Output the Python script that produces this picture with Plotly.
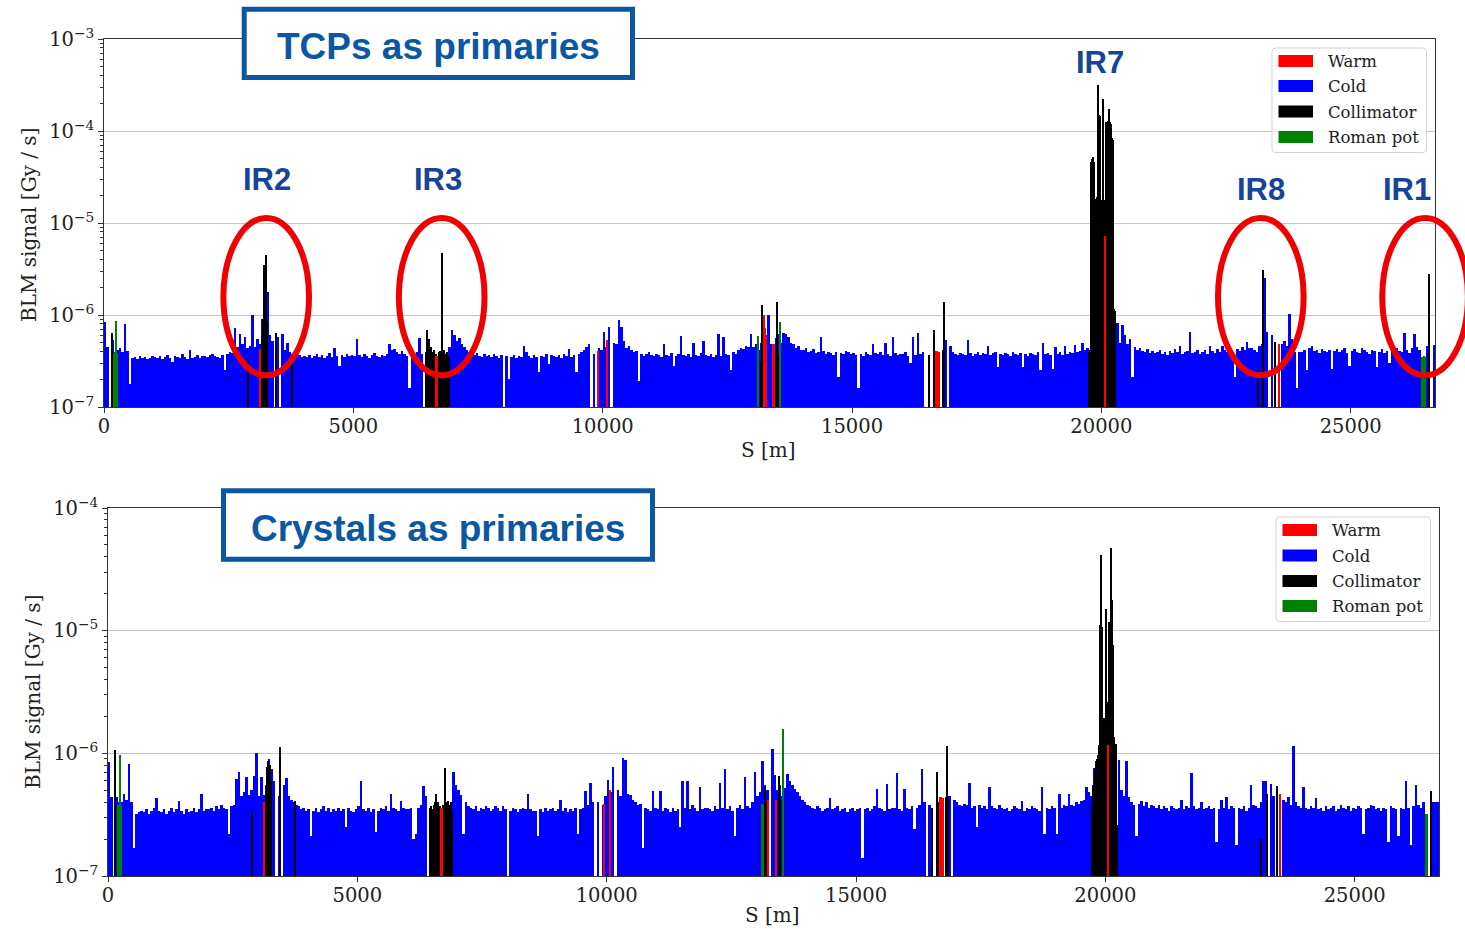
import plotly.graph_objects as go

W, H = 1465, 929

# ---------------------------------------------------------------------------
# Arc (cold) BLM signal, one value per 50 m of ring, in units of 1e-8 Gy/s.
# A 0 means no arc monitor in that bin. One row per kilometre.
# ---------------------------------------------------------------------------
BIN_M = 50

cold_tcp_e8 = [
    84, 45, 0, 53, 40, 42, 44, 40, 79, 41, 18, 34, 35, 33, 36, 34, 35, 33, 34, 36,
    35, 34, 36, 33, 35, 37, 34, 31, 36, 35, 34, 38, 35, 33, 42, 34, 35, 37, 34, 36,
    36, 35, 37, 38, 36, 35, 34, 37, 25, 38, 40, 39, 72, 45, 62, 48, 57, 44, 46, 100,
    45, 55, 48, 90, 85, 180, 60, 52, 0, 58, 0, 62, 42, 50, 40, 38, 38, 36, 37, 35,
    36, 35, 37, 34, 36, 38, 35, 37, 34, 36, 39, 35, 44, 36, 28, 37, 35, 38, 36, 37,
    36, 55, 37, 35, 38, 36, 34, 37, 39, 36, 35, 37, 36, 38, 48, 42, 43, 40, 38, 41,
    38, 36, 16, 35, 37, 40, 56, 38, 0, 0, 0, 0, 0, 0, 0, 0, 0, 0, 45, 68,
    60, 52, 56, 48, 45, 42, 40, 38, 37, 39, 36, 35, 38, 36, 37, 35, 38, 36, 34, 37,
    0, 36, 20, 35, 37, 34, 36, 35, 46, 40, 36, 34, 37, 35, 24, 36, 35, 38, 29, 37,
    36, 35, 37, 34, 38, 36, 43, 35, 37, 24, 38, 40, 42, 45, 48, 0, 38, 0, 44, 42,
    65, 45, 74, 0, 50, 48, 88, 74, 52, 44, 46, 42, 40, 41, 19, 38, 36, 38, 40, 37,
    36, 38, 37, 35, 48, 37, 36, 39, 28, 36, 38, 59, 37, 36, 38, 35, 50, 37, 36, 39,
    52, 37, 36, 38, 35, 37, 62, 36, 58, 38, 37, 25, 40, 38, 42, 44, 43, 46, 45, 62,
    45, 48, 42, 50, 55, 0, 100, 48, 45, 56, 62, 50, 63, 62, 58, 50, 48, 44, 46, 42,
    42, 44, 40, 41, 43, 39, 40, 57, 41, 38, 40, 39, 37, 40, 21, 39, 38, 41, 40, 38,
    39, 37, 16, 38, 36, 40, 38, 37, 48, 39, 38, 40, 37, 50, 38, 36, 58, 39, 37, 38,
    38, 40, 36, 30, 58, 37, 63, 38, 40, 0, 0, 0, 0, 0, 0, 0, 0, 53, 0, 46,
    40, 38, 37, 39, 38, 37, 53, 39, 36, 38, 40, 37, 39, 38, 46, 37, 39, 40, 27, 38,
    37, 39, 38, 36, 40, 38, 37, 39, 27, 38, 36, 39, 38, 37, 40, 25, 50, 38, 39, 37,
    26, 45, 38, 40, 37, 46, 38, 40, 39, 47, 40, 41, 50, 42, 44, 0, 0, 0, 0, 0,
    0, 0, 0, 0, 0, 0, 81, 50, 78, 60, 48, 55, 21, 45, 42, 44, 41, 40, 43, 39,
    41, 39, 40, 42, 38, 40, 37, 41, 39, 43, 40, 46, 38, 40, 41, 66, 39, 40, 42, 38,
    40, 42, 38, 46, 41, 39, 43, 40, 46, 42, 40, 44, 39, 21, 43, 41, 45, 42, 51, 44,
    44, 42, 40, 46, 48, 250, 65, 0, 60, 0, 0, 0, 48, 52, 46, 103, 55, 40, 16, 40,
    40, 42, 25, 44, 46, 41, 42, 39, 43, 41, 40, 42, 26, 41, 43, 40, 42, 44, 39, 28,
    41, 43, 40, 39, 44, 42, 40, 38, 42, 41, 27, 40, 43, 39, 41, 30, 42, 40, 44, 41,
    40, 64, 42, 39, 44, 62, 45, 42, 0, 0, 46, 0, 0, 47,
]

cold_cry_e8 = [
    85, 44, 0, 44, 40, 40, 47, 42, 82, 40, 17, 32, 33, 34, 33, 35, 32, 34, 36, 43,
    34, 33, 35, 32, 34, 36, 33, 35, 41, 34, 32, 35, 33, 34, 36, 33, 35, 47, 34, 35,
    35, 36, 34, 37, 35, 38, 36, 35, 22, 37, 38, 62, 71, 45, 48, 64, 46, 50, 65, 100,
    45, 64, 46, 55, 90, 75, 60, 0, 45, 0, 55, 63, 45, 42, 40, 38, 37, 35, 36, 34,
    35, 21, 34, 36, 33, 35, 37, 34, 36, 33, 35, 34, 36, 34, 35, 25, 36, 34, 33, 35,
    37, 60, 35, 34, 36, 33, 35, 23, 34, 36, 35, 37, 34, 47, 36, 35, 34, 41, 36, 35,
    35, 36, 20, 22, 36, 38, 54, 45, 0, 0, 0, 0, 0, 0, 0, 0, 0, 0, 71, 55,
    50, 46, 22, 40, 37, 36, 35, 37, 34, 36, 35, 37, 36, 34, 35, 37, 36, 34, 37, 35,
    0, 34, 36, 35, 33, 35, 36, 35, 47, 35, 34, 34, 21, 35, 33, 36, 34, 35, 36, 34,
    35, 42, 34, 36, 33, 35, 34, 36, 22, 35, 36, 49, 38, 57, 40, 0, 40, 0, 38, 45,
    61, 48, 77, 0, 50, 45, 91, 88, 47, 46, 42, 40, 38, 39, 17, 36, 35, 34, 49, 36,
    35, 49, 34, 36, 35, 33, 36, 34, 35, 25, 59, 36, 59, 35, 38, 36, 34, 53, 35, 36,
    36, 35, 34, 37, 35, 57, 36, 75, 35, 37, 34, 21, 36, 38, 35, 64, 37, 36, 40, 70,
    45, 48, 87, 55, 50, 0, 108, 66, 50, 55, 45, 52, 68, 60, 55, 51, 48, 45, 42, 40,
    38, 37, 36, 35, 37, 36, 34, 35, 36, 43, 35, 36, 37, 34, 35, 36, 33, 35, 36, 34,
    35, 36, 14, 35, 36, 34, 35, 37, 51, 36, 35, 34, 56, 35, 36, 36, 69, 35, 34, 51,
    36, 35, 37, 24, 36, 38, 75, 40, 0, 38, 0, 0, 0, 0, 0, 0, 0, 45, 0, 42,
    40, 38, 37, 39, 38, 57, 36, 37, 25, 38, 36, 37, 35, 53, 37, 36, 35, 38, 36, 35,
    36, 34, 35, 37, 36, 35, 41, 34, 36, 35, 37, 36, 35, 34, 53, 22, 36, 35, 37, 36,
    22, 47, 36, 38, 37, 47, 38, 37, 40, 39, 41, 42, 53, 48, 45, 76, 0, 0, 0, 0,
    0, 0, 0, 0, 0, 89, 50, 45, 86, 44, 40, 38, 21, 39, 41, 37, 40, 36, 38, 37,
    36, 38, 35, 37, 36, 34, 37, 36, 35, 36, 42, 35, 37, 36, 69, 37, 35, 36, 40, 35,
    36, 37, 35, 36, 19, 35, 42, 36, 44, 35, 37, 36, 18, 36, 35, 37, 34, 36, 55, 38,
    37, 36, 40, 59, 59, 0, 56, 45, 0, 0, 0, 42, 40, 44, 38, 115, 40, 37, 36, 53,
    36, 35, 37, 36, 43, 35, 36, 34, 37, 35, 36, 37, 34, 35, 38, 36, 35, 37, 34, 36,
    35, 37, 36, 22, 35, 36, 38, 37, 35, 36, 34, 36, 35, 19, 37, 36, 35, 21, 36, 35,
    59, 36, 18, 37, 55, 38, 36, 40, 0, 0, 0, 40, 40, 40,
]

# ---------------------------------------------------------------------------
# Individual monitors: position S [m] and signal [Gy/s]
# ---------------------------------------------------------------------------
# TCPs as primaries
coll_tcp_s = [154, 2890, 3170, 3195, 3220, 3245, 3268, 3445, 3766,
              6450, 6475, 6500, 6525, 6550, 6575, 6600, 6625, 6650, 6710, 6735,
              6774, 6800, 6825, 6850, 6875, 6900, 6925,
              13120, 13180, 13206, 13480, 13494, 13520,
              16536, 16640, 16660, 16820, 16837, 16855,
              19760, 19782, 19803, 19822, 19840, 19860, 19885, 19905, 19920, 19934,
              19950, 19965, 19985, 20000, 20026, 20045, 20090, 20110, 20130, 20153,
              20175, 20195, 20215, 20235, 20258, 20278,
              23135, 23236, 23476,
              26565]
coll_tcp_v = [6.4e-7, 3.3e-7, 5.5e-7, 8.8e-7, 3.5e-6, 4.5e-6, 8.5e-7, 6.3e-7, 3.5e-7,
              4.0e-7, 6.8e-7, 5.2e-7, 5.5e-7, 4.5e-7, 4.0e-7, 3.8e-7, 4.2e-7, 3.8e-7, 4.0e-7, 4.1e-7,
              4.7e-6, 4.0e-7, 4.2e-7, 3.8e-7, 4.0e-7, 3.6e-7, 3.5e-7,
              3.0e-7, 3.2e-7, 1.28e-6, 4.0e-7, 1.38e-6, 3.8e-7,
              3.7e-7, 6.9e-7, 4.0e-7, 4.2e-7, 1.38e-6, 4.2e-7,
              4.0e-7, 4.2e-7, 4.6e-5, 5.0e-5, 5.2e-5, 4.6e-5, 1.84e-5, 1.9e-5, 1.84e-5, 3.14e-4,
              1.48e-4, 1.45e-4, 1.8e-5, 1.8e-5, 2.25e-4, 1.8e-5, 1.24e-4, 1.25e-4, 1.3e-4, 1.75e-4,
              1.25e-4, 1.2e-4, 8.3e-5, 8.0e-5, 1.17e-6, 1.1e-6,
              2.5e-7, 3.06e-6, 5.1e-7,
              2.8e-6]

warm_tcp_s = [3130, 6662, 6684, 9916, 10084, 13235, 13260, 13285, 13410, 13435,
              16690, 16715, 16740, 20066, 23564]
warm_tcp_v = [4.3e-7, 3.6e-7, 3.6e-7, 4.1e-7, 5.4e-7, 1.0e-6, 7.2e-7, 6.0e-7, 4.9e-7, 4.8e-7,
              4.1e-7, 4.1e-7, 4.0e-7, 7.3e-6, 4.9e-7]

rp_tcp_s = [200, 225, 243, 265, 13126, 13560, 26440, 26465, 26487]
rp_tcp_v = [3.8e-7, 4.0e-7, 8.5e-7, 3.8e-7, 5.9e-7, 8.4e-7, 3.5e-7, 3.6e-7, 3.5e-7]

# Crystals as primaries
coll_cry_s = [140, 2893, 3180, 3200, 3220, 3245, 3270, 3447, 3747,
              6455, 6480, 6505, 6530, 6555, 6575, 6600, 6625, 6650, 6730, 6753,
              6775, 6800, 6825, 6850, 6875, 6900,
              13170, 13190, 13465, 13482,
              16520, 16627, 16650, 16800, 16820, 16840,
              19740, 19762, 19785, 19810, 19835, 19858, 19880, 19900, 19920, 19938,
              19980, 20007, 20030, 20075, 20090, 20110, 20130, 20157, 20180, 20205,
              20225, 20245,
              23120, 23253, 23453,
              26527]
coll_cry_v = [1.06e-6, 3.3e-7, 4.5e-7, 7.8e-7, 8.6e-7, 8.0e-7, 6.0e-7, 1.13e-6, 4.1e-7,
              3.6e-7, 3.7e-7, 3.5e-7, 3.8e-7, 4.0e-7, 4.7e-7, 3.8e-7, 4.0e-7, 3.7e-7, 3.8e-7, 7.6e-7,
              4.0e-7, 3.9e-7, 4.1e-7, 3.8e-7, 4.0e-7, 3.3e-7,
              5.3e-7, 4.0e-7, 6.5e-7, 4.2e-7,
              3.6e-7, 7.0e-7, 4.0e-7, 4.4e-7, 1.14e-6, 4.4e-7,
              3.8e-7, 5.5e-7, 7.5e-7, 8.6e-7, 9.0e-7, 9.7e-7, 1.17e-6, 1.11e-5, 4.13e-5, 1.08e-5,
              1.93e-6, 1.5e-5, 2.6e-6, 1.18e-5, 1.18e-5, 4.74e-5, 1.78e-5, 7.6e-6, 1.36e-6, 1.2e-6,
              1.2e-6, 2.6e-7,
              2.0e-7, 4.7e-7, 5.4e-7,
              4.9e-7]

warm_cry_s = [3126, 6675, 6698, 9940, 10060, 13232, 13400, 16690, 16715, 16740, 20054, 23507]
warm_cry_v = [4.0e-7, 3.6e-7, 3.6e-7, 3.9e-7, 5.0e-7, 4.2e-7, 4.2e-7, 4.4e-7, 4.4e-7, 4.3e-7,
              1.17e-6, 4.7e-7]

rp_cry_s = [205, 228, 240, 262, 13110, 13130, 13530, 13547, 26425, 26445]
rp_cry_v = [3.8e-7, 3.8e-7, 9.7e-7, 3.8e-7, 3.9e-7, 3.8e-7, 4.0e-7, 1.57e-6, 3.2e-7, 3.2e-7]

categories = ["Warm", "Cold", "Collimator", "Roman pot"]
cat_colors = {"Warm": "#ff0000", "Cold": "#0000ff", "Collimator": "#000000", "Roman pot": "#008000"}
x_ticks = [0, 5000, 10000, 15000, 20000, 25000]
S_MAX = 26690
NARROW_M = 25

BLUE_BOX = "#0b57a2"
IR_BLUE = "#17449b"
SERIF = "DejaVu Serif"
SANS = "Liberation Sans, Arial, sans-serif"


def fx(p):
    return p / W


def fy(p):
    return 1 - p / H


fig = go.Figure()


def add_panel(xa, ya, cold_e8, coll_s, coll_v, warm_s, warm_v, rp_s, rp_v):
    cx = [BIN_M * (i + 0.5) for i in range(len(cold_e8))]
    cy = [v * 1e-8 if v > 0 else None for v in cold_e8]
    common = dict(xaxis=xa, yaxis=ya, showlegend=False, hoverinfo="skip")
    fig.add_bar(x=cx, y=cy, width=[BIN_M] * len(cx),
                marker=dict(color=cat_colors["Cold"], line=dict(width=0)), **common)
    for s, v, cat in ((coll_s, coll_v, "Collimator"), (warm_s, warm_v, "Warm"),
                      (rp_s, rp_v, "Roman pot")):
        fig.add_bar(x=s, y=v, width=[NARROW_M] * len(s),
                    marker=dict(color=cat_colors[cat], line=dict(width=0)), **common)


add_panel("x", "y", cold_tcp_e8, coll_tcp_s, coll_tcp_v, warm_tcp_s, warm_tcp_v, rp_tcp_s, rp_tcp_v)
add_panel("x2", "y2", cold_cry_e8, coll_cry_s, coll_cry_v, warm_cry_s, warm_cry_v, rp_cry_s, rp_cry_v)

tick_font = dict(family=SERIF, size=19.5, color="#222222")


def x_axis(domain, anchor):
    return dict(domain=domain, anchor=anchor, range=[0, S_MAX], tickvals=x_ticks,
                ticktext=[str(t) for t in x_ticks], ticks="outside", ticklen=5, tickwidth=1,
                tickcolor="#333333", showgrid=False, zeroline=False, showline=True,
                linecolor="#333333", linewidth=1, mirror=True, tickfont=tick_font,
                ticklabelstandoff=-3, automargin=False, fixedrange=True)


def y_axis(domain, anchor, top_exp):
    exps = list(range(-7, top_exp + 1))
    return dict(domain=domain, anchor=anchor, type="log", range=[-7, top_exp],
                tickvals=[10.0 ** e for e in exps],
                ticktext=["10<sup>\u2212%d</sup>" % (-e) for e in exps],
                ticks="outside", ticklen=5, tickwidth=1, tickcolor="#333333",
                showgrid=True, gridcolor="#c4c4c4", gridwidth=1, zeroline=False,
                showline=True, linecolor="#333333", linewidth=1, mirror=True,
                minor=dict(tickmode="array",
                           tickvals=[k * 10.0 ** e for e in range(-7, top_exp) for k in range(2, 10)],
                           ticks="outside", ticklen=3, tickwidth=1, tickcolor="#333333",
                           showgrid=False),
                tickfont=tick_font, automargin=False, fixedrange=True)


fig.update_layout(
    width=W, height=H, margin=dict(l=0, r=0, t=0, b=0, pad=0, autoexpand=False),
    paper_bgcolor="white", plot_bgcolor="white",
    barmode="overlay", bargap=0, showlegend=False,
    xaxis=x_axis([fx(104), fx(1435)], "y"),
    yaxis=y_axis([fy(407), fy(39)], "x", -3),
    xaxis2=x_axis([fx(108), fx(1439)], "y2"),
    yaxis2=y_axis([fy(876), fy(508)], "x2", -4),
)

shapes = []
annotations = []


def text(t, x, y, size, color, family, xanchor="center", angle=0):
    annotations.append(dict(text=t, x=fx(x), y=fy(y), xref="paper", yref="paper",
                            xanchor=xanchor, yanchor="middle", showarrow=False,
                            textangle=angle, font=dict(family=family, size=size, color=color)))


def P(x, y):
    return "%.5f,%.5f" % (fx(x), fy(y))


def rounded_rect(x0, y0, x1, y1, r):
    return ("M" + P(x0 + r, y0) + " L" + P(x1 - r, y0) + " Q" + P(x1, y0) + " " + P(x1, y0 + r)
            + " L" + P(x1, y1 - r) + " Q" + P(x1, y1) + " " + P(x1 - r, y1)
            + " L" + P(x0 + r, y1) + " Q" + P(x0, y1) + " " + P(x0, y1 - r)
            + " L" + P(x0, y0 + r) + " Q" + P(x0, y0) + " " + P(x0 + r, y0) + " Z")


# axis titles
text("S [m]", 768, 450, 20, "#222222", SERIF)
text("S [m]", 772, 915, 20, "#222222", SERIF)
text("BLM signal [Gy / s]", 29, 225, 20, "#222222", SERIF, angle=-90)
text("BLM signal [Gy / s]", 33, 692, 20, "#222222", SERIF, angle=-90)

# legends
for (bx0, by0, bx1, by1, rows_y) in ((1272, 48, 1426.5, 152.5, [61, 86, 111.5, 137]),
                                     (1276, 517, 1430.5, 621.5, [530, 555.5, 581, 606])):
    shapes.append(dict(type="path", path=rounded_rect(bx0, by0, bx1, by1, 4), xref="paper",
                       yref="paper", line=dict(color="#d4d4d4", width=1),
                       fillcolor="rgba(255,255,255,0.8)", layer="above"))
    for cat, ry in zip(categories, rows_y):
        shapes.append(dict(type="rect", xref="paper", yref="paper",
                           x0=fx(bx0 + 6.5), x1=fx(bx0 + 41), y0=fy(ry + 6), y1=fy(ry - 6),
                           fillcolor=cat_colors[cat], line=dict(width=0), layer="above"))
        text(cat, bx0 + 54, ry + 0.5, 16.5, "#222222", SERIF, xanchor="left")

# title boxes
for (x0, y0, x1, y1, label, ty) in ((241.7, 6.7, 635, 80, "TCPs as primaries", 46),
                                    (221, 488.3, 655, 561.7, "Crystals as primaries", 528)):
    shapes.append(dict(type="rect", xref="paper", yref="paper",
                       x0=fx(x0 + 2.5), x1=fx(x1 - 2.5), y0=fy(y1 - 2.5), y1=fy(y0 + 2.5),
                       fillcolor="white", line=dict(color=BLUE_BOX, width=5), layer="above"))
    text("<b>%s</b>" % label, (x0 + x1) / 2, ty, 37, BLUE_BOX, SANS)

# interaction-region labels and rings
ir_labels = ["IR2", "IR3", "IR7", "IR8", "IR1"]
for lab, (lx, ly) in zip(ir_labels, [(266.7, 180), (438.3, 180), (1099.7, 62),
                                     (1260.8, 189), (1406.7, 189)]):
    text("<b>%s</b>" % lab, lx, ly, 31, IR_BLUE, SANS)

for cxp in (266.2, 441.7, 1260.8, 1425.1):
    shapes.append(dict(type="circle", xref="paper", yref="paper",
                       x0=fx(cxp - 42.8), x1=fx(cxp + 42.8), y0=fy(375.3), y1=fy(218),
                       line=dict(color="#f00000", width=6), fillcolor="rgba(0,0,0,0)",
                       layer="above"))

fig.update_layout(shapes=shapes, annotations=annotations)
fig.write_html("out.html")
